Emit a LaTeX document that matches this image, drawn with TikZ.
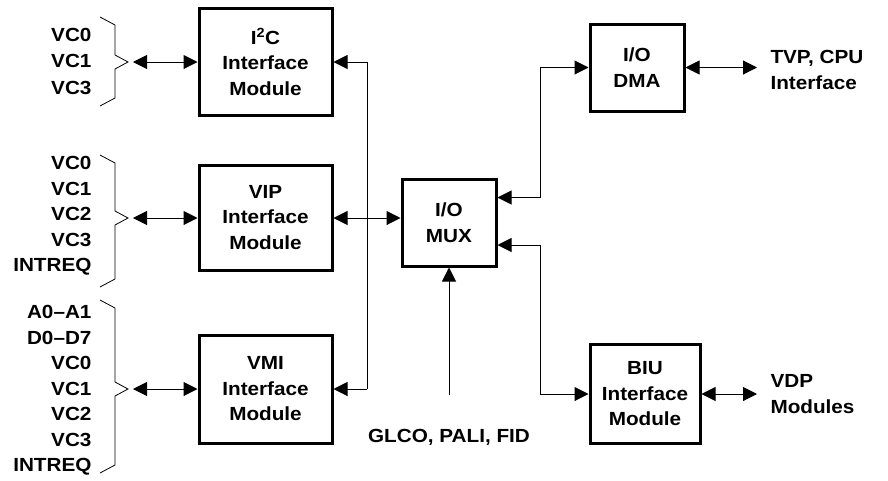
\documentclass[tikz,border=0pt]{standalone}
\usepackage{fontspec}
\setmainfont{Liberation Sans}[FakeStretch=1.09]
\usetikzlibrary{arrows.meta}
\begin{document}
\begin{tikzpicture}[x=1pt,y=-1pt,line width=1pt,
  font=\fontsize{19}{25.5}\selectfont\bfseries,
  tri/.tip={Triangle[length=14pt,width=14pt]},
  blk/.style={draw,line width=3pt,align=center,inner sep=0pt},
  sig/.style={align=right,anchor=east,inner sep=0pt}]
\useasboundingbox (0,0) rectangle (888,480);
% modules
\node[blk,minimum width=133,minimum height=107](i2c) at (265.5,62){I\textsuperscript{2}C\\Interface\\Module};
\node[blk,minimum width=133,minimum height=105](vip) at (265.5,217.5){VIP\\Interface\\Module};
\node[blk,minimum width=133,minimum height=108](vmi) at (265.5,389){VMI\\Interface\\Module};
\node[blk,minimum width=94,minimum height=87](mux) at (449,222.5){I/O\\MUX};
\node[blk,minimum width=94,minimum height=87](dma) at (637,67.5){I/O\\DMA};
\node[blk,minimum width=110,minimum height=99](biu) at (645,394){BIU\\Interface\\Module};
% left signal groups
\node[sig](g1) at (92,61){VC0\\[1pt]VC1\\[1pt]VC3};
\node[sig](g2) at (92,216){VC0\\VC1\\VC2\\VC3\\INTREQ};
\node[sig](g3) at (92,390.5){A0--A1\\D0--D7\\VC0\\VC1\\VC2\\VC3\\INTREQ};
\foreach \t/\m/\b/\n in {17/62/106/a,155/218/287/b,300/389/473/c}{
  \draw[line width=0.8pt](100,\t)--(115,\t+8)--(115,\m-7)--(128,\m)--(115,\m+7)--(115,\b-8)--(100,\b);
  \coordinate(bp\n) at (133,\m);
}
\draw[tri-tri](bpa)--(bpa-|i2c.west);
\draw[tri-tri](bpb)--(bpb-|vip.west);
\draw[tri-tri](bpc)--(bpc-|vmi.west);
% bus to mux
\coordinate(bus) at (367,0);
\draw(bus|-bpa)--(bus|-bpc);
\draw[-tri](bus|-bpa)--(bpa-|i2c.east);
\draw[-tri](bus|-bpc)--(bpc-|vmi.east);
\draw[tri-tri](bpb-|vip.east)--(bpb-|mux.west);
% mux to dma and biu
\draw[tri-tri]([yshift=25pt]mux.east)--++(43,0)|-(dma.west);
\draw[tri-tri]([yshift=-22.5pt]mux.east)--++(43,0)|-(biu.west);
% external
\node[inner sep=0pt](glco) at (449,437){GLCO, PALI, FID};
\draw[-tri]([yshift=33pt]glco.north)--(mux.south);
\node[align=left,anchor=west,inner sep=0pt,inner xsep=13pt](tvp) at (757,70){TVP, CPU\\Interface};
\node[align=left,anchor=west,inner sep=0pt,inner xsep=13pt](vdp) at (757,394){VDP\\Modules};
\draw[tri-tri](dma.east)--(dma.east-|tvp.west);
\draw[tri-tri](biu.east)--(biu.east-|vdp.west);
\end{tikzpicture}
\end{document}
